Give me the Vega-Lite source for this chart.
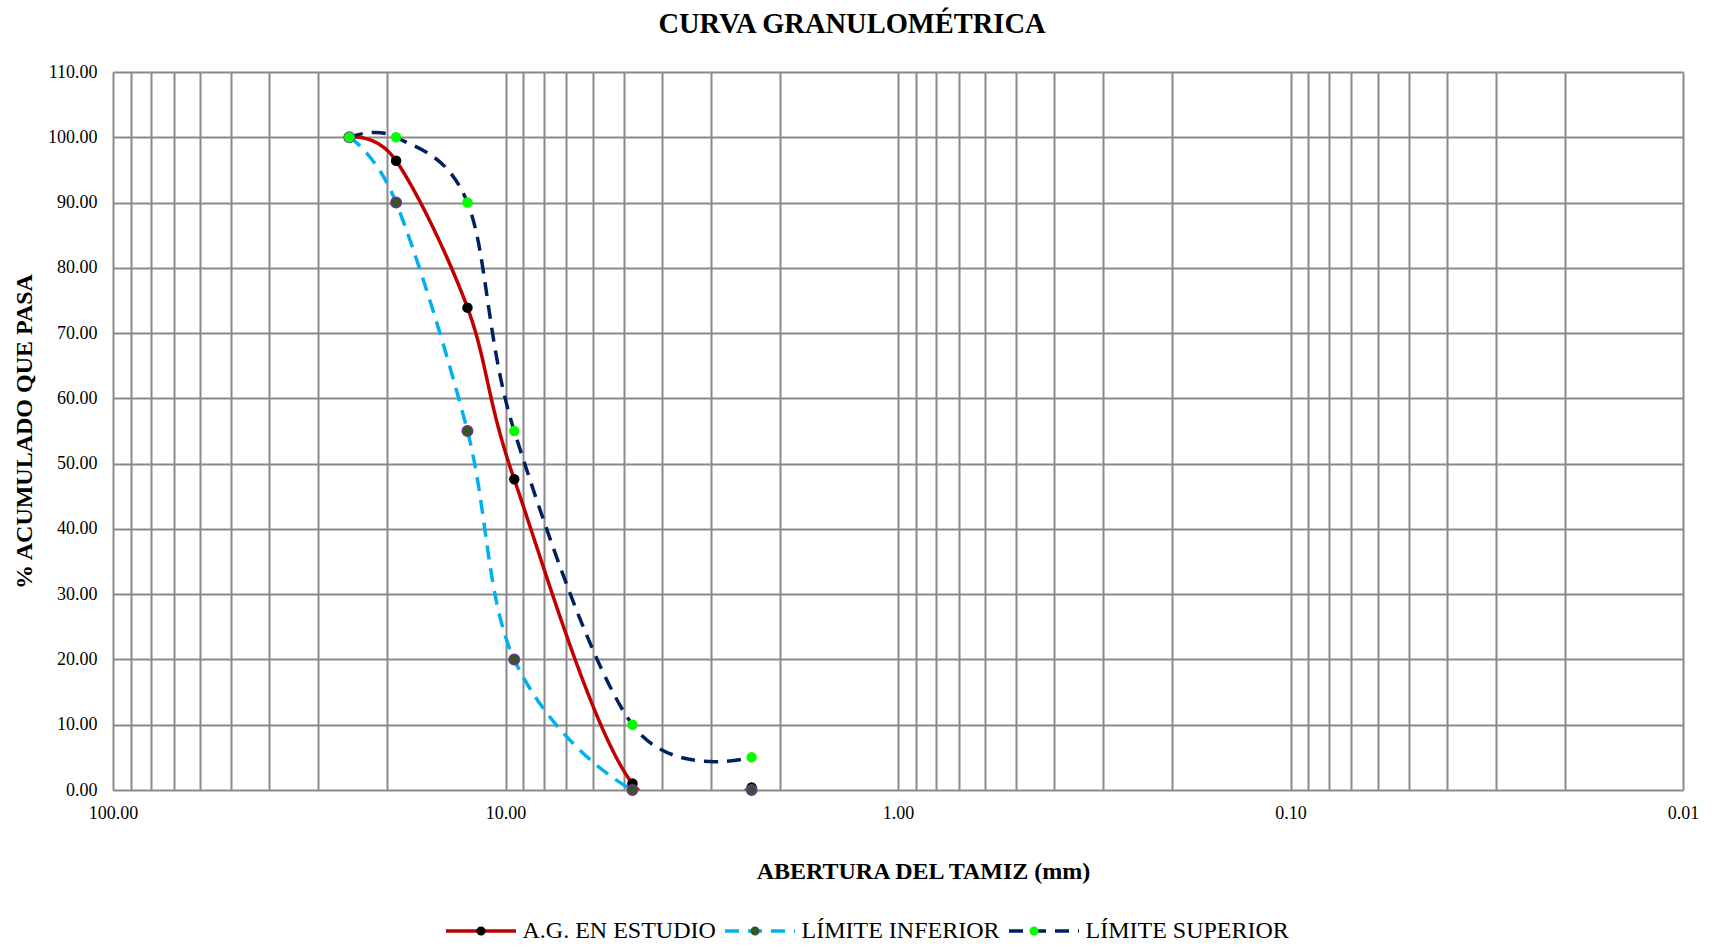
{
  "$schema": "https://vega.github.io/schema/vega-lite/v6.json",
  "width": 1570,
  "height": 718,
  "autosize": {"type": "none"},
  "padding": {"left": 113, "top": 72, "right": 32, "bottom": 156},
  "background": "white",
  "config": {"font": "Liberation Serif", "view": {"stroke": null}},
  "title": {
    "text": "CURVA GRANULOMÉTRICA",
    "font": "Liberation Serif",
    "fontSize": 28.5,
    "fontWeight": "bold",
    "color": "#000000",
    "anchor": "middle",
    "frame": "group",
    "dx": -46,
    "baseline": "alphabetic",
    "offset": 2
  },
  "data": {
    "values": [
      {"serie": "A.G. EN ESTUDIO", "abertura": 25.0, "pasa": 100},
      {"serie": "A.G. EN ESTUDIO", "abertura": 19.0, "pasa": 96.4},
      {"serie": "A.G. EN ESTUDIO", "abertura": 12.5, "pasa": 73.9},
      {"serie": "A.G. EN ESTUDIO", "abertura": 9.5, "pasa": 47.6},
      {"serie": "A.G. EN ESTUDIO", "abertura": 4.75, "pasa": 1.0},
      {"serie": "A.G. EN ESTUDIO", "abertura": 2.36, "pasa": 0.4},
      {"serie": "LÍMITE INFERIOR", "abertura": 25.0, "pasa": 100},
      {"serie": "LÍMITE INFERIOR", "abertura": 19.0, "pasa": 90},
      {"serie": "LÍMITE INFERIOR", "abertura": 12.5, "pasa": 55},
      {"serie": "LÍMITE INFERIOR", "abertura": 9.5, "pasa": 20},
      {"serie": "LÍMITE INFERIOR", "abertura": 4.75, "pasa": 0},
      {"serie": "LÍMITE INFERIOR", "abertura": 2.36, "pasa": 0},
      {"serie": "LÍMITE SUPERIOR", "abertura": 25.0, "pasa": 100},
      {"serie": "LÍMITE SUPERIOR", "abertura": 19.0, "pasa": 100},
      {"serie": "LÍMITE SUPERIOR", "abertura": 12.5, "pasa": 90},
      {"serie": "LÍMITE SUPERIOR", "abertura": 9.5, "pasa": 55},
      {"serie": "LÍMITE SUPERIOR", "abertura": 4.75, "pasa": 10},
      {"serie": "LÍMITE SUPERIOR", "abertura": 2.36, "pasa": 5}
    ]
  },
  "layer": [
    {
      "mark": {"type": "line", "interpolate": "cardinal", "strokeWidth": 3.5, "clip": true},
      "encoding": {
        "x": {
          "field": "abertura",
          "type": "quantitative",
          "scale": {"type": "log", "domain": [0.01, 100], "reverse": true},
          "axis": {
            "values": [100, 90, 80, 70, 60, 50, 40, 30, 20, 10, 9, 8, 7, 6, 5, 4, 3, 2, 1, 0.9, 0.8, 0.7, 0.6, 0.5, 0.4, 0.3, 0.2, 0.1, 0.09, 0.08, 0.07, 0.06, 0.05, 0.04, 0.03, 0.02, 0.01],
            "labelExpr": "(datum.value == 100 || datum.value == 10 || datum.value == 1 || datum.value == 0.1 || datum.value == 0.01) ? format(datum.value, '.2f') : ''",
            "labelOverlap": false,
            "labelBound": false,
            "labelFlush": false,
            "labelFont": "Liberation Serif",
            "labelFontSize": 18,
            "labelColor": "#000000",
            "labelPadding": 14,
            "ticks": false,
            "tickSize": 0,
            "domain": false,
            "grid": true,
            "gridColor": "#8a8a8a",
            "gridWidth": 2,
            "title": "ABERTURA DEL TAMIZ (mm)",
            "titleFont": "Liberation Serif",
            "titleFontSize": 24,
            "titleFontWeight": "bold",
            "titleColor": "#000000",
            "titleAlign": "center",
            "titleBaseline": "alphabetic",
            "titleX": 810,
            "titleY": 88
          }
        },
        "y": {
          "field": "pasa",
          "type": "quantitative",
          "scale": {"domain": [0, 110], "nice": false},
          "axis": {
            "values": [0, 10, 20, 30, 40, 50, 60, 70, 80, 90, 100, 110],
            "format": ".2f",
            "labelFont": "Liberation Serif",
            "labelFontSize": 18,
            "labelColor": "#000000",
            "labelPadding": 16,
            "ticks": false,
            "tickSize": 0,
            "domain": false,
            "grid": true,
            "gridColor": "#8a8a8a",
            "gridWidth": 2,
            "title": "% ACUMULADO QUE PASA",
            "titleFont": "Liberation Serif",
            "titleFontSize": 24,
            "titleFontWeight": "bold",
            "titleColor": "#000000",
            "titleAngle": 270,
            "titleAlign": "center",
            "titleBaseline": "alphabetic",
            "titleX": -82,
            "titleY": 359
          }
        },
        "stroke": {
          "field": "serie",
          "type": "nominal",
          "scale": {"range": ["#C00000", "#00B0F0", "#002060"]},
          "legend": {
            "orient": "none",
            "legendX": 331,
            "legendY": 822,
            "direction": "horizontal",
            "title": null,
            "symbolType": "M-1,0H1",
            "symbolSize": 4900,
            "symbolStrokeWidth": 3.5,
            "labelFont": "Liberation Serif",
            "labelFontSize": 24,
            "labelColor": "#000000",
            "labelLimit": 0,
            "labelOffset": 4.5,
            "columnPadding": 2,
            "zindex": 0,
            "encode": {
              "symbols": {
                "update": {
                  "strokeDash": [
                    {"test": "datum.value == 'A.G. EN ESTUDIO'", "value": [1, 0]},
                    {"value": [22, 26]}
                  ]
                }
              }
            }
          }
        },
        "strokeDash": {
          "field": "serie",
          "type": "nominal",
          "scale": {"range": [[1, 0], [14, 9], [14, 9]]},
          "legend": null
        }
      }
    },
    {
      "mark": {"type": "point", "filled": true, "size": 110, "opacity": 1, "strokeWidth": 1.5},
      "encoding": {
        "x": {"field": "abertura", "type": "quantitative"},
        "y": {"field": "pasa", "type": "quantitative"},
        "fill": {
          "field": "serie",
          "type": "nominal",
          "scale": {"domain": ["A.G. EN ESTUDIO", "LÍMITE INFERIOR", "LÍMITE SUPERIOR"], "range": ["#000000", "#375623", "#00FF00"]},
          "legend": {
            "orient": "none",
            "legendX": 332,
            "legendY": 823,
            "direction": "horizontal",
            "title": null,
            "symbolType": "M-0.13,0A0.13,0.13,0,1,1,0.13,0A0.13,0.13,0,1,1,-0.13,0",
            "symbolSize": 4900,
            "symbolStrokeWidth": 1.5,
            "labelFont": "Liberation Serif",
            "labelFontSize": 24,
            "labelLimit": 0,
            "labelOpacity": 0,
            "labelOffset": 4.5,
            "columnPadding": 4,
            "zindex": 1,
            "encode": {
              "symbols": {
                "update": {
                  "stroke": [
                    {"test": "datum.value == 'LÍMITE INFERIOR'", "value": "#7030A0"},
                    {"value": "transparent"}
                  ]
                }
              }
            }
          }
        },
        "stroke": {
          "condition": {"test": "datum.serie == 'LÍMITE INFERIOR'", "value": "#7030A0"},
          "value": null
        }
      }
    }
  ]
}
